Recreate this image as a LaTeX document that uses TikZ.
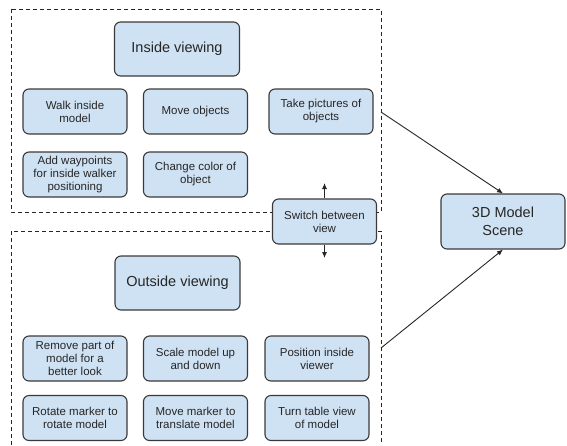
\documentclass[tikz,border=0pt]{standalone}
\usepackage{fontspec}
\setmainfont{Liberation Sans}
\usetikzlibrary{arrows.meta}

\definecolor{boxfill}{HTML}{CFE2F3}
\definecolor{boxline}{HTML}{3A3A3A}

\tikzset{
    task/.style={draw=boxline, fill=boxfill, rounded corners=6pt,
        line width=1.1pt, minimum width=104pt, minimum height=45pt,
        align=center, inner sep=2pt, text=black!85,
        font=\fontsize{11.5}{13}\selectfont},
    title/.style={task, minimum width=125pt, minimum height=54pt,
        font=\fontsize{14.5}{18}\selectfont},
    group/.style={draw=black!85, dash pattern=on 4pt off 3pt, line width=0.9pt},
    link/.style={-{Latex[length=6pt,width=5pt]}, line width=0.9pt, draw=black!85}
}

\begin{document}
\begin{tikzpicture}[x=1pt, y=-1pt]
% Fix the page to the size of the original drawing, in pixels,
% with the y axis running downwards like in an image editor.
\useasboundingbox (0,0) rectangle (567,445);

% The two dashed frames group the tasks of each viewing mode.
% The lower one runs off the bottom of the page, so it is left open.
\draw[group] (11,9) rectangle (381,212);
\draw[group] (11,445) -- (11,231) -- (381,231) -- (381,445);

% Inside viewing and its tasks
\node[title] (inside) at (177,49) {Inside viewing};
\node[task] (walk) at (75,111.5) {Walk inside\\model};
\node[task] (moveobj) at (195.5,111.5) {Move objects};
\node[task] (pictures) at (321,111.5) {Take pictures of\\objects};
\node[task] (waypoints) at (75,174.5) {Add waypoints\\for inside walker\\positioning};
\node[task] (recolor) at (195.5,174.5) {Change color of\\object};

% Outside viewing and its tasks
\node[title] (outside) at (177.5,283) {Outside viewing};
\node[task] (remove) at (75,358.5) {Remove part of\\model for a\\better look};
\node[task] (scale) at (195.5,358.5) {Scale model up\\and down};
\node[task] (position) at (317,358.5) {Position inside\\viewer};
\node[task] (rotate) at (75,418) {Rotate marker to\\rotate model};
\node[task] (translate) at (195.5,418) {Move marker to\\translate model};
\node[task] (turntable) at (317,418) {Turn table view\\of model};

% The switch sits on top of both frames, so it is drawn after them
% and its fill hides the dashed lines behind it.
\node[task] (switch) at (324.5,221.5) {Switch between\\view};
\node[title, minimum width=124pt, minimum height=55pt] (scene) at (503,221.5) {3D Model\\Scene};

% Free ends of the connectors
\coordinate (up) at (324.5,183);
\coordinate (down) at (324.5,258);
\coordinate (insideedge) at (381,112);
\coordinate (outsideedge) at (381,348);

\draw[link] (switch.north) -- (up);
\draw[link] (switch.south) -- (down);
\draw[link] (insideedge) -- (scene.north);
\draw[link] (outsideedge) -- (scene.south);
\end{tikzpicture}
\end{document}
